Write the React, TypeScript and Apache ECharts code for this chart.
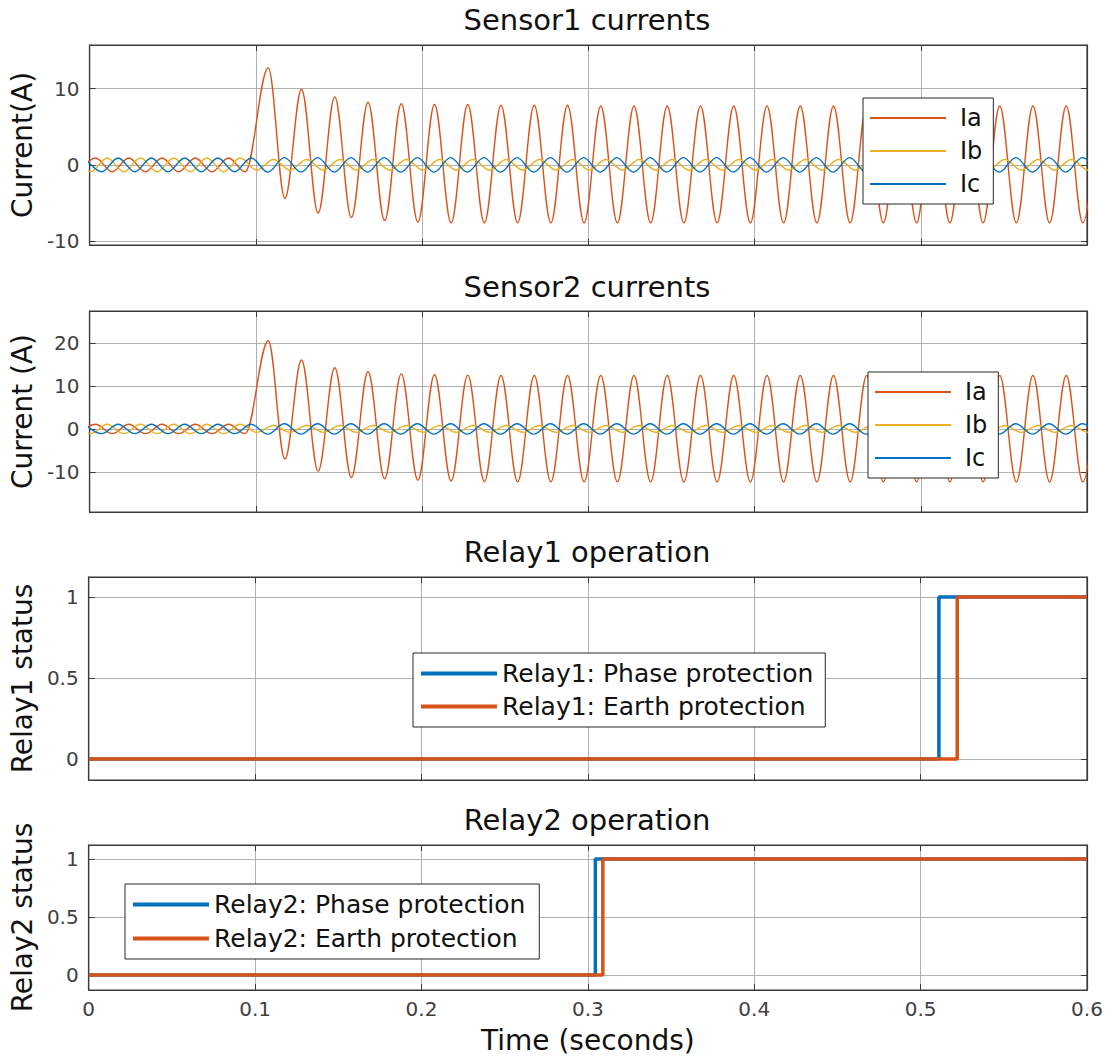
import React, { useEffect, useRef } from 'react';
import * as echarts from 'echarts';

// ---------- data ----------
const X_TICKS = [0, 0.1, 0.2, 0.3, 0.4, 0.5, 0.6];
const S1_TICKS = [-10, 0, 10];
const S2_TICKS = [-10, 0, 10, 20];
const RELAY_TICKS = [0, 0.5, 1];

// successive extremes (peak / trough) of each 50 Hz current, 10 ms apart
const HALF_PERIOD = 0.01;

const S1_IA_PRE_T0 = -0.0064;
const S1_IA_PRE = [-0.9, 0.9, -0.9, 0.9, -0.9, 0.9, -0.9, 0.9, -0.9, 0.9, -0.9];
const S1_IA_POST_T0 = 0.1075;
const S1_IA_POST = [
  12.7, -4.4, 9.9, -6.3, 8.9, -6.9, 8.2, -7.3, 8.0, -7.5,
  7.9, -7.6, 7.9, -7.6, 7.8, -7.6, 7.8, -7.6, 7.8, -7.6,
  7.7, -7.6, 7.7, -7.6, 7.7, -7.6, 7.7, -7.6, 7.7, -7.6,
  7.7, -7.6, 7.7, -7.6, 7.7, -7.6, 7.7, -7.6, 7.7, -7.6,
  7.7, -7.6, 7.7, -7.6, 7.7, -7.6, 7.7, -7.6, 7.7, -7.6,
  7.7,
];
const S1_IB_T0 = -0.0094;
const S1_IB = [
  0.9, -0.9, 0.9, -0.9, 0.9, -0.9, 0.9, -0.9, 0.9, -0.9, 0.9,
  -0.7, 0.7, -0.7, 0.7, -0.7, 0.7, -0.7, 0.7, -0.7, 0.7,
  -0.7, 0.7, -0.7, 0.7, -0.7, 0.7, -0.7, 0.7, -0.7, 0.7,
  -0.7, 0.7, -0.7, 0.7, -0.7, 0.7, -0.7, 0.7, -0.7, 0.7,
  -0.7, 0.7, -0.7, 0.7, -0.7, 0.7, -0.7, 0.7, -0.7, 0.7,
  -0.7, 0.7, -0.7, 0.7, -0.7, 0.7, -0.7, 0.7, -0.7, 0.7,
  -0.7, 0.7,
];
const S1_IC_T0 = -0.0028;
const S1_IC = [
  0.9, -0.9, 0.9, -0.9, 0.9, -0.9, 0.9, -0.9, 0.9, -0.9, 0.9,
  -0.95, 0.95, -0.95, 0.95, -0.95, 0.95, -0.95, 0.95, -0.95, 0.95,
  -0.95, 0.95, -0.95, 0.95, -0.95, 0.95, -0.95, 0.95, -0.95, 0.95,
  -0.95, 0.95, -0.95, 0.95, -0.95, 0.95, -0.95, 0.95, -0.95, 0.95,
  -0.95, 0.95, -0.95, 0.95, -0.95, 0.95, -0.95, 0.95, -0.95, 0.95,
  -0.95, 0.95, -0.95, 0.95, -0.95, 0.95, -0.95, 0.95, -0.95, 0.95,
  -0.95,
];

const S2_IA_PRE_T0 = -0.0064;
const S2_IA_PRE = [-1.1, 1.1, -1.1, 1.1, -1.1, 1.1, -1.1, 1.1, -1.1, 1.1, -1.1];
const S2_IA_POST_T0 = 0.1075;
const S2_IA_POST = [
  20.5, -7.0, 16.0, -9.8, 14.2, -11.3, 13.3, -11.6, 12.8, -11.9,
  12.6, -12.1, 12.5, -12.2, 12.4, -12.3, 12.4, -12.3, 12.4, -12.3,
  12.4, -12.3, 12.4, -12.3, 12.4, -12.3, 12.4, -12.3, 12.4, -12.3,
  12.4, -12.3, 12.4, -12.3, 12.4, -12.3, 12.4, -12.3, 12.4, -12.3,
  12.4, -12.3, 12.4, -12.3, 12.4, -12.3, 12.4, -12.3, 12.4, -12.3,
  12.4,
];
const S2_IB_T0 = -0.0094;
const S2_IB = [
  1.1, -1.1, 1.1, -1.1, 1.1, -1.1, 1.1, -1.1, 1.1, -1.1, 1.1,
  -0.8, 0.8, -0.8, 0.8, -0.8, 0.8, -0.8, 0.8, -0.8, 0.8,
  -0.8, 0.8, -0.8, 0.8, -0.8, 0.8, -0.8, 0.8, -0.8, 0.8,
  -0.8, 0.8, -0.8, 0.8, -0.8, 0.8, -0.8, 0.8, -0.8, 0.8,
  -0.8, 0.8, -0.8, 0.8, -0.8, 0.8, -0.8, 0.8, -0.8, 0.8,
  -0.8, 0.8, -0.8, 0.8, -0.8, 0.8, -0.8, 0.8, -0.8, 0.8,
  -0.8, 0.8,
];
const S2_IC_T0 = -0.0028;
const S2_IC = [
  1.1, -1.1, 1.1, -1.1, 1.1, -1.1, 1.1, -1.1, 1.1, -1.1, 1.1,
  -1.2, 1.2, -1.2, 1.2, -1.2, 1.2, -1.2, 1.2, -1.2, 1.2,
  -1.2, 1.2, -1.2, 1.2, -1.2, 1.2, -1.2, 1.2, -1.2, 1.2,
  -1.2, 1.2, -1.2, 1.2, -1.2, 1.2, -1.2, 1.2, -1.2, 1.2,
  -1.2, 1.2, -1.2, 1.2, -1.2, 1.2, -1.2, 1.2, -1.2, 1.2,
  -1.2, 1.2, -1.2, 1.2, -1.2, 1.2, -1.2, 1.2, -1.2, 1.2,
  -1.2,
];

// relay status steps
const R1_PHASE_T = [0, 0.511, 0.6];
const R1_PHASE_V = [0, 1, 1];
const R1_EARTH_T = [0, 0.522, 0.6];
const R1_EARTH_V = [0, 1, 1];
const R2_PHASE_T = [0, 0.3045, 0.6];
const R2_PHASE_V = [0, 1, 1];
const R2_EARTH_T = [0, 0.309, 0.6];
const R2_EARTH_V = [0, 1, 1];

const SENSOR_NAMES = ['Ia', 'Ib', 'Ic'];
const R1_NAMES = ['Relay1: Phase protection', 'Relay1: Earth protection'];
const R2_NAMES = ['Relay2: Phase protection', 'Relay2: Earth protection'];

// ---------- styling ----------
const FONT = "'DejaVu Sans', sans-serif";
const C_ORANGE = '#D95319';
const C_YELLOW = '#EDB120';
const C_BLUE = '#0072BD';
const AXIS_C = '#3a3a3a';
const GRID_C = '#b0b0b0';

function extremes(t0: number, vals: number[]): number[][] {
  return vals.map((v, i) => [Number((t0 + i * HALF_PERIOD).toFixed(4)), v]);
}
function steps(ts: number[], vs: number[]): number[][] {
  return ts.map((t, i) => [t, vs[i]]);
}

const PANELS = [
  { top: 45, height: 200, min: -10.5, max: 15.7, ticks: S1_TICKS, name: 'Current(A)', title: 'Sensor1 currents' },
  { top: 311, height: 201, min: -19.3, max: 27.4, ticks: S2_TICKS, name: 'Current (A)', title: 'Sensor2 currents' },
  { top: 577, height: 203, min: -0.13, max: 1.123, ticks: RELAY_TICKS, name: 'Relay1 status', title: 'Relay1 operation' },
  { top: 845, height: 145, min: -0.13, max: 1.12, ticks: RELAY_TICKS, name: 'Relay2 status', title: 'Relay2 operation' },
];
const TITLE_TOPS = [5, 272, 537, 805];

function buildOption() {
  const grid = PANELS.map((p) => ({
    left: 87, width: 1000, top: p.top, height: p.height,
    show: true, borderColor: AXIS_C, borderWidth: 1.2, containLabel: false,
  }));

  const xAxis: any[] = [];
  const yAxis: any[] = [];
  PANELS.forEach((p, i) => {
    const last = i === PANELS.length - 1;
    xAxis.push({
      type: 'value', gridIndex: i, position: 'bottom', min: 0, max: 0.6, interval: 0.1,
      axisLine: { show: true, onZero: false, lineStyle: { color: AXIS_C, width: 1.2 } },
      axisTick: { show: true, inside: true, length: 6, lineStyle: { color: AXIS_C } },
      axisLabel: {
        show: last, margin: 9, color: '#404040', fontFamily: FONT, fontSize: 20,
        formatter: (v: number) => String(Number(v.toFixed(1))),
      },
      splitLine: { show: true, lineStyle: { color: GRID_C, width: 1 } },
      name: last ? 'Time (seconds)' : '',
      nameLocation: 'middle', nameGap: 36,
      nameTextStyle: { fontFamily: FONT, fontSize: 28, color: '#111' },
    });
    xAxis.push({
      type: 'value', gridIndex: i, position: 'top', min: 0, max: 0.6, interval: 0.1,
      axisLine: { show: true, onZero: false, lineStyle: { color: AXIS_C, width: 1.2 } },
      axisTick: { show: true, inside: true, length: 6, lineStyle: { color: AXIS_C } },
      axisLabel: { show: false },
      splitLine: { show: false },
    });
    yAxis.push({
      type: 'value', gridIndex: i, position: 'left', min: p.min, max: p.max,
      axisLine: { show: true, onZero: false, lineStyle: { color: AXIS_C, width: 1.2 } },
      axisTick: { show: true, inside: true, length: 6, customValues: p.ticks, lineStyle: { color: AXIS_C } },
      axisLabel: { show: true, customValues: p.ticks, margin: 10, color: '#404040', fontFamily: FONT, fontSize: 20 },
      splitLine: { show: true, lineStyle: { color: GRID_C, width: 1 } },
      name: p.name, nameLocation: 'middle', nameGap: 46, nameRotate: 90,
      nameTextStyle: { fontFamily: FONT, fontSize: 28, color: '#111' },
    });
    yAxis.push({
      type: 'value', gridIndex: i, position: 'right', min: p.min, max: p.max,
      axisLine: { show: true, onZero: false, lineStyle: { color: AXIS_C, width: 1.2 } },
      axisTick: { show: true, inside: true, length: 6, customValues: p.ticks, lineStyle: { color: AXIS_C } },
      axisLabel: { show: false, customValues: p.ticks },
      splitLine: { show: false },
    });
  });

  const curve = (name: string, panel: number, data: number[][], color: string) => ({
    name, type: 'line', xAxisIndex: panel * 2, yAxisIndex: panel * 2, data,
    symbol: 'none', showSymbol: false, smooth: 0.36, smoothMonotone: 'x',
    lineStyle: { color, width: 1.4 }, itemStyle: { color }, clip: true, z: 2,
  });
  const step = (name: string, panel: number, data: number[][], color: string) => ({
    name, type: 'line', xAxisIndex: panel * 2, yAxisIndex: panel * 2, data, step: 'end',
    symbol: 'none', showSymbol: false, lineStyle: { color, width: 3.5 }, itemStyle: { color }, clip: true, z: 2,
  });

  const series = [
    curve('Ia', 0, [...extremes(S1_IA_PRE_T0, S1_IA_PRE), ...extremes(S1_IA_POST_T0, S1_IA_POST)], C_ORANGE),
    curve('Ib', 0, extremes(S1_IB_T0, S1_IB), C_YELLOW),
    curve('Ic', 0, extremes(S1_IC_T0, S1_IC), C_BLUE),
    curve('Ia', 1, [...extremes(S2_IA_PRE_T0, S2_IA_PRE), ...extremes(S2_IA_POST_T0, S2_IA_POST)], C_ORANGE),
    curve('Ib', 1, extremes(S2_IB_T0, S2_IB), C_YELLOW),
    curve('Ic', 1, extremes(S2_IC_T0, S2_IC), C_BLUE),
    step(R1_NAMES[0], 2, steps(R1_PHASE_T, R1_PHASE_V), C_BLUE),
    step(R1_NAMES[1], 2, steps(R1_EARTH_T, R1_EARTH_V), C_ORANGE),
    step(R2_NAMES[0], 3, steps(R2_PHASE_T, R2_PHASE_V), C_BLUE),
    step(R2_NAMES[1], 3, steps(R2_EARTH_T, R2_EARTH_V), C_ORANGE),
  ];

  const legendBase = {
    orient: 'vertical', backgroundColor: '#fff', borderColor: '#262626', borderWidth: 1,
    borderRadius: 0, itemWidth: 76, icon: 'rect', selectedMode: false, z: 10,
  };
  const legend = [
    { ...legendBase, data: SENSOR_NAMES, left: 863, top: 98, padding: [8, 11, 8, 7], itemGap: 9, itemHeight: 2,
      textStyle: { fontFamily: FONT, fontSize: 24, color: '#111', padding: [0, 0, 0, 9] } },
    { ...legendBase, data: SENSOR_NAMES, left: 868, top: 372, padding: [8, 11, 8, 7], itemGap: 9, itemHeight: 2,
      textStyle: { fontFamily: FONT, fontSize: 24, color: '#111', padding: [0, 0, 0, 9] } },
    { ...legendBase, data: R1_NAMES, left: 413, top: 653, padding: [8, 12, 8, 8], itemGap: 8, itemHeight: 4,
      textStyle: { fontFamily: FONT, fontSize: 25, color: '#111' } },
    { ...legendBase, data: R2_NAMES, left: 125, top: 884, padding: [8, 14, 8, 8], itemGap: 9, itemHeight: 4,
      textStyle: { fontFamily: FONT, fontSize: 25, color: '#111' } },
  ];

  const title = PANELS.map((p, i) => ({
    text: p.title, left: 587, top: TITLE_TOPS[i], textAlign: 'center', padding: 0,
    textStyle: { fontFamily: FONT, fontSize: 29, fontWeight: 'normal', color: '#111' },
  }));

  return {
    animation: false,
    backgroundColor: '#fff',
    title, grid, xAxis, yAxis, series, legend,
  };
}

export default function App() {
  const ref = useRef<HTMLDivElement>(null);
  useEffect(() => {
    document.body.style.margin = '0';
    if (!ref.current) return;
    const chart = echarts.init(ref.current, undefined, { renderer: 'svg' });
    chart.setOption(buildOption() as any);
    return () => chart.dispose();
  }, []);
  return <div ref={ref} style={{ width: 1112, height: 1064 }} />;
}
